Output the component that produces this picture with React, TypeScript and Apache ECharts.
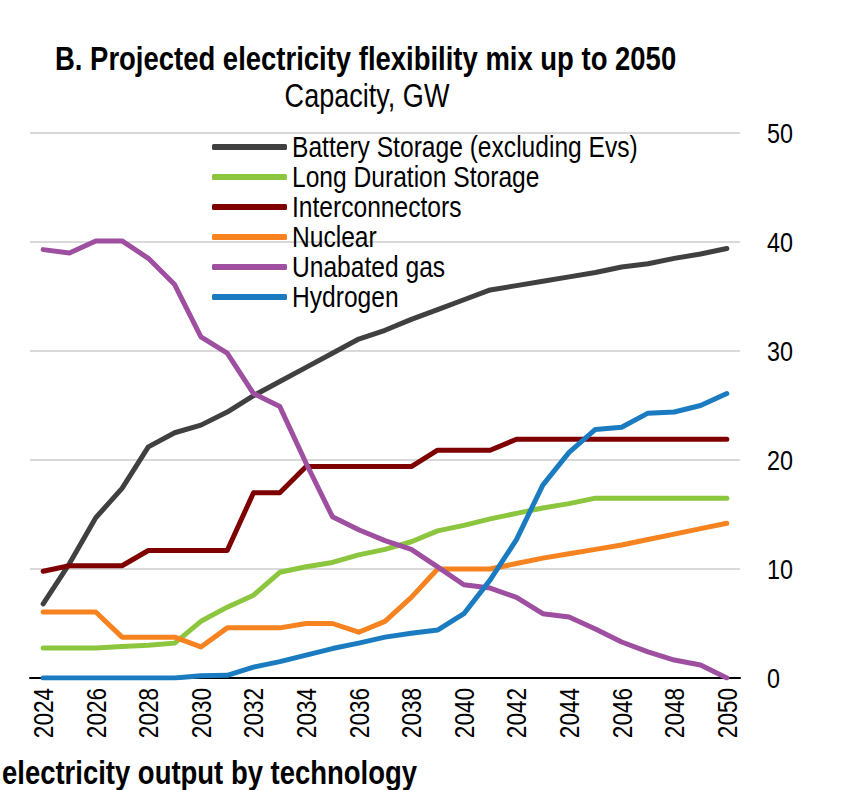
import React, { useEffect, useRef } from "react";
import * as echarts from "echarts";

// Years on the horizontal axis
const years: string[] = [
  "2024", "2025", "2026", "2027", "2028", "2029", "2030", "2031", "2032",
  "2033", "2034", "2035", "2036", "2037", "2038", "2039", "2040", "2041",
  "2042", "2043", "2044", "2045", "2046", "2047", "2048", "2049", "2050",
];

// Capacity by technology, GW
const batteryStorage: number[] = [
  6.8, 10.5, 14.7, 17.4, 21.2, 22.5, 23.2, 24.4, 25.9, 27.2, 28.5, 29.8, 31.1,
  31.9, 32.9, 33.8, 34.7, 35.6, 36.0, 36.4, 36.8, 37.2, 37.7, 38.0, 38.5, 38.9, 39.4,
];
const longDurationStorage: number[] = [
  2.75, 2.75, 2.75, 2.9, 3.0, 3.2, 5.2, 6.5, 7.6, 9.7, 10.2, 10.6, 11.3,
  11.8, 12.5, 13.5, 14.0, 14.6, 15.1, 15.6, 16.0, 16.5, 16.5, 16.5, 16.5, 16.5, 16.5,
];
const interconnectors: number[] = [
  9.8, 10.3, 10.3, 10.3, 11.7, 11.7, 11.7, 11.7, 17.0, 17.0, 19.4, 19.4, 19.4,
  19.4, 19.4, 20.9, 20.9, 20.9, 21.9, 21.9, 21.9, 21.9, 21.9, 21.9, 21.9, 21.9, 21.9,
];
const nuclear: number[] = [
  6.05, 6.05, 6.05, 3.75, 3.75, 3.75, 2.85, 4.6, 4.6, 4.6, 5.0, 5.0, 4.2,
  5.2, 7.4, 10.0, 10.0, 10.0, 10.5, 11.0, 11.4, 11.8, 12.2, 12.7, 13.2, 13.7, 14.2,
];
const unabatedGas: number[] = [
  39.3, 39.0, 40.1, 40.1, 38.5, 36.1, 31.3, 29.8, 26.1, 24.9, 19.7, 14.8, 13.6,
  12.6, 11.8, 10.2, 8.55, 8.25, 7.4, 5.9, 5.6, 4.5, 3.3, 2.4, 1.65, 1.2, 0,
];
const hydrogen: number[] = [
  0, 0, 0, 0, 0, 0, 0.2, 0.25, 1.0, 1.5, 2.1, 2.7, 3.2,
  3.75, 4.1, 4.4, 5.9, 9.0, 12.7, 17.7, 20.7, 22.8, 23.0, 24.3, 24.4, 25.0, 26.1,
];

const seriesNames: string[] = [
  "Battery Storage (excluding Evs)",
  "Long Duration Storage",
  "Interconnectors",
  "Nuclear",
  "Unabated gas",
  "Hydrogen",
];
const seriesColors: string[] = ["#404040", "#8CC63E", "#7F0000", "#F68220", "#9E4FA0", "#1B7BC0"];
const seriesData: number[][] = [
  batteryStorage, longDurationStorage, interconnectors, nuclear, unabatedGas, hydrogen,
];

const FONT = "'Liberation Sans', Arial, sans-serif";
// All texts are condensed along their reading direction (narrow typeface look)
const NARROW = 0.82;

function condenseTexts(el: any) {
  if (!el) return;
  if (el.type === "text") {
    // keep each text's own anchor fixed while condensing it
    el.originX = (el.style && el.style.x) || 0;
    el.originY = (el.style && el.style.y) || 0;
    el.scaleX = NARROW;
    if (typeof el.markRedraw === "function") el.markRedraw();
  }
  if (el.isGroup && typeof el.children === "function") {
    el.children().forEach(condenseTexts);
  }
}

export default function App() {
  const ref = useRef<HTMLDivElement>(null);

  useEffect(() => {
    document.body.style.margin = "0";
    if (!ref.current) return;
    const chart = echarts.init(ref.current, null, { renderer: "svg" });
    chart.setOption({
      animation: false,
      backgroundColor: "#ffffff",
      textStyle: { fontFamily: FONT },
      grid: { left: 30, right: 103, top: 133, bottom: 112, containLabel: false },
      legend: {
        orient: "vertical",
        left: 212,
        top: 132,
        padding: 0,
        itemGap: 0,
        itemWidth: 75,
        itemHeight: 6,
        icon: "roundRect",
        data: seriesNames,
        textStyle: { fontFamily: FONT, fontSize: 30, color: "#000", lineHeight: 30 },
      },
      xAxis: {
        type: "category",
        data: years,
        boundaryGap: true,
        axisLine: { lineStyle: { color: "#000", width: 2 } },
        axisTick: { inside: true, length: 8, interval: 0, lineStyle: { color: "#000", width: 2 } },
        axisLabel: {
          interval: 1,
          rotate: 90,
          margin: 10,
          fontFamily: FONT,
          fontSize: 27.5,
          color: "#000",
        },
        splitLine: { show: false },
      },
      yAxis: {
        type: "value",
        position: "right",
        min: 0,
        max: 50,
        interval: 10,
        axisLine: { show: false },
        axisTick: { show: false },
        axisLabel: { margin: 27, fontFamily: FONT, fontSize: 28.5, color: "#000" },
        splitLine: { lineStyle: { color: "#D9D9D9", width: 2 } },
      },
      series: seriesNames.map((name, i) => ({
        name,
        type: "line",
        data: seriesData[i],
        showSymbol: false,
        symbol: "none",
        color: seriesColors[i],
        lineStyle: { width: 5, color: seriesColors[i], cap: "round", join: "round" },
      })),
      graphic: [
        {
          type: "text",
          x: 55,
          y: 41,
          style: {
            text: "B. Projected electricity flexibility mix up to 2050",
            font: `bold 33.5px ${FONT}`,
            fill: "#000",
            align: "left",
            verticalAlign: "top",
          },
        },
        {
          type: "text",
          x: 367,
          y: 79,
          style: {
            text: "Capacity, GW",
            font: `33px ${FONT}`,
            fill: "#000",
            align: "center",
            verticalAlign: "top",
          },
        },
        {
          type: "text",
          x: 2,
          y: 755,
          style: {
            text: "electricity output by technology",
            font: `bold 33.5px ${FONT}`,
            fill: "#000",
            align: "left",
            verticalAlign: "top",
          },
        },
      ],
    });
    try {
      const zr: any = chart.getZr();
      zr.storage.getRoots().forEach(condenseTexts);
      zr.refreshImmediately();
    } catch (e) {
      // leave texts at their natural width
    }
    return () => chart.dispose();
  }, []);

  return <div ref={ref} style={{ width: 843, height: 790 }} />;
}
